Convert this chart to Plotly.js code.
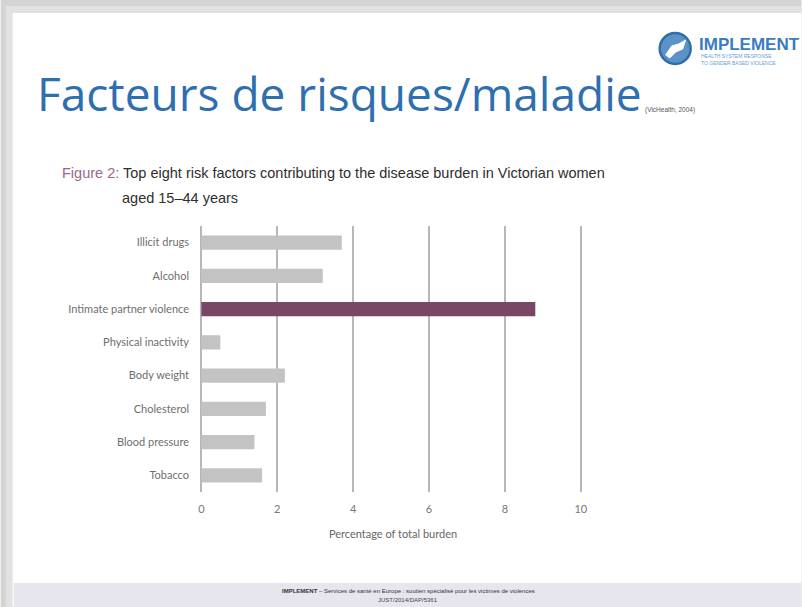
<!DOCTYPE html>
<html>
<head>
<meta charset="utf-8">
<script src="https://cdn.plot.ly/plotly-3.0.1.min.js"></script>
<style>
  html, body { margin: 0; padding: 0; background: #ffffff; }
  #chart { width: 802px; height: 607px; }
</style>
</head>
<body>
<div id="chart"></div>
<script>
// ---- Data ----
const categories = [
  "Illicit drugs",
  "Alcohol",
  "Intimate partner violence",
  "Physical inactivity",
  "Body weight",
  "Cholesterol",
  "Blood pressure",
  "Tobacco"
];
const burdenPercent = [3.7, 3.2, 8.8, 0.5, 2.2, 1.7, 1.4, 1.6];
const highlightCategory = "Intimate partner violence";
const xTickValues = [0, 2, 4, 6, 8, 10];
const xTickLabels = ["0", "2", "4", "6", "8", "10"];

const slideTitle = "Facteurs de risques/maladie";
const slideSource = "(VicHealth, 2004)";
const figureLabel = "Figure 2:";
const figureTitleLine1 = "Top eight risk factors contributing to the disease burden in Victorian women";
const figureTitleLine2 = "aged 15–44 years";
const xAxisTitle = "Percentage of total burden";
const footerLine1 = "<b>IMPLEMENT</b> – Services de santé en Europe : soutien spécialisé pour les victimes de violences";
const footerLine2 = "JUST/2014/DAP/5361";

// ---- Geometry helpers ----
const W = 802, H = 607;
const xRange = [-0.3, 10.4];
const pxPerUnit = 38;
const zeroPx = 201;
const mL = zeroPx + xRange[0] * pxPerUnit;
const plotW = (xRange[1] - xRange[0]) * pxPerUnit;
const mR = W - mL - plotW;
const mT = 226;
const mB = H - 492;
const plotH = H - mT - mB;
const px = x => (x - mL) / plotW;
const py = y => (H - mB - y) / plotH;

const barColors = categories.map(c => c === highlightCategory ? "#7a4665" : "#c3c3c3");

const trace = {
  type: "bar",
  orientation: "h",
  y: categories,
  x: burdenPercent,
  marker: { color: barColors, line: { width: 0 } },
  width: 0.43,
  hoverinfo: "x+y"
};

const shapes = [
  // outer shadow band (left & top)
  { type: "rect", xref: "paper", yref: "paper", x0: px(0), x1: px(W), y0: py(H), y1: py(0),
    fillcolor: "#d4d4d4", line: { width: 0 }, layer: "below" },
  { type: "rect", xref: "paper", yref: "paper", x0: px(5), x1: px(W), y0: py(H), y1: py(6),
    fillcolor: "#e2e2e2", line: { width: 0 }, layer: "below" },
  // white slide
  { type: "rect", xref: "paper", yref: "paper", x0: px(12), x1: px(W), y0: py(H), y1: py(13),
    fillcolor: "#ffffff", line: { width: 0 }, layer: "below" },
  // footer band
  { type: "rect", xref: "paper", yref: "paper", x0: px(13), x1: px(W), y0: py(H), y1: py(583),
    fillcolor: "#e7e5ee", line: { width: 0 }, layer: "below" },
  // logo globe
  { type: "circle", xref: "paper", yref: "paper", x0: px(660), x1: px(691), y0: py(64), y1: py(33),
    fillcolor: "#5b93c9", line: { color: "#2f6ea8", width: 2.5 }, layer: "above" },
  { type: "path", xref: "paper", yref: "paper",
    path: `M ${px(666)} ${py(55)} L ${px(672)} ${py(46)} L ${px(679)} ${py(44)} L ${px(686)} ${py(40)} L ${px(683)} ${py(49)} L ${px(676)} ${py(52)} L ${px(670)} ${py(58)} Z`,
    fillcolor: "#ffffff", line: { color: "#ffffff", width: 1 }, layer: "above" }
];

const annotations = [
  { text: slideTitle, xref: "paper", yref: "paper", x: px(34), y: py(93), xanchor: "left", yanchor: "middle",
    showarrow: false, font: { family: "Open Sans, sans-serif", size: 46, color: "#2e6fb0" } },
  { text: slideSource, xref: "paper", yref: "paper", x: px(643), y: py(110), xanchor: "left", yanchor: "middle",
    showarrow: false, font: { family: "Liberation Sans Narrow, sans-serif", size: 6.5, color: "#555555" } },
  { text: "<b>IMPLEMENT</b>", xref: "paper", yref: "paper", x: px(697), y: py(44), xanchor: "left", yanchor: "middle",
    showarrow: false, font: { family: "Liberation Sans Narrow, sans-serif", size: 17, color: "#3a7cbf" } },
  { text: "HEALTH SYSTEM RESPONSE<br>TO GENDER BASED VIOLENCE", xref: "paper", yref: "paper", x: px(699), y: py(59), xanchor: "left", yanchor: "middle",
    align: "left", showarrow: false, font: { family: "Liberation Sans Narrow, sans-serif", size: 5, color: "#6c9dd0" } },
  { text: `<span style="color:#9a6a84">${figureLabel}</span> ${figureTitleLine1}`, xref: "paper", yref: "paper",
    x: px(59), y: py(173), xanchor: "left", yanchor: "middle", showarrow: false,
    font: { family: "Liberation Sans Narrow, sans-serif", size: 14.5, color: "#2e2e2e" } },
  { text: figureTitleLine2, xref: "paper", yref: "paper",
    x: px(119), y: py(198), xanchor: "left", yanchor: "middle", showarrow: false,
    font: { family: "Liberation Sans Narrow, sans-serif", size: 14.5, color: "#2e2e2e" } },
  { text: footerLine1, xref: "paper", yref: "paper", x: px(408), y: py(591), xanchor: "center", yanchor: "middle",
    showarrow: false, font: { family: "Liberation Sans Narrow, sans-serif", size: 6, color: "#333333" } },
  { text: footerLine2, xref: "paper", yref: "paper", x: px(408), y: py(600), xanchor: "center", yanchor: "middle",
    showarrow: false, font: { family: "Liberation Sans Narrow, sans-serif", size: 6, color: "#444444" } }
];

const layout = {
  width: W, height: H,
  margin: { l: mL, r: mR, t: mT, b: mB, pad: 0 },
  paper_bgcolor: "rgba(0,0,0,0)",
  plot_bgcolor: "rgba(0,0,0,0)",
  showlegend: false,
  bargap: 0.5,
  xaxis: {
    range: xRange,
    tickmode: "array",
    tickvals: xTickValues,
    ticktext: xTickLabels,
    showgrid: true,
    gridcolor: "#b7b7b7",
    gridwidth: 2,
    zeroline: false,
    showline: false,
    ticks: "",
    ticklabelstandoff: 9,
    tickfont: { family: "Lato, sans-serif", size: 11, color: "#777777" },
    title: { text: xAxisTitle, standoff: 16, font: { family: "Lato, sans-serif", size: 11, color: "#666666" } },
    fixedrange: true
  },
  yaxis: {
    type: "category",
    categoryorder: "array",
    categoryarray: categories,
    autorange: "reversed",
    showgrid: false,
    zeroline: false,
    showline: false,
    ticks: "",
    ticklabelstandoff: 0,
    tickfont: { family: "Lato, sans-serif", size: 11, color: "#6e6e6e" },
    fixedrange: true
  },
  shapes: shapes,
  annotations: annotations
};

Plotly.newPlot("chart", [trace], layout, { displayModeBar: false, staticPlot: true });
</script>
</body>
</html>
